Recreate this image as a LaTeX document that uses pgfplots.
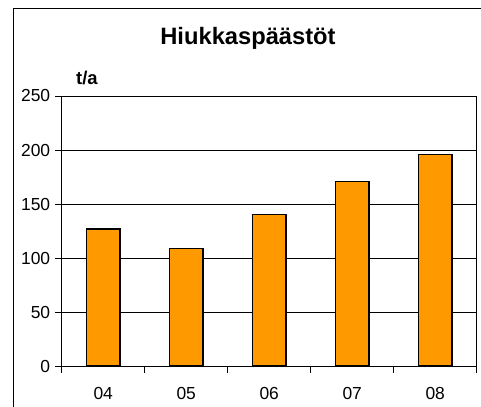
\documentclass[border=0pt]{standalone}
\usepackage{pgfplots}
\pgfplotsset{compat=1.18}
\usepackage{fontspec}
\setmainfont{Liberation Sans}
\definecolor{barorange}{RGB}{255,153,0}
\begin{document}
\begin{tikzpicture}
\useasboundingbox (0bp,0bp) rectangle (481bp,407bp);
% outer chart frame (cropped at right and bottom)
\draw[line width=1bp] (13.3bp,-5bp) -- (13.3bp,398.7bp) -- (490bp,398.7bp);
\begin{axis}[
  at={(61.7bp,41bp)}, anchor=south west,
  scale only axis, width=415bp, height=270bp,
  ybar, bar width=33.3bp,
  xmin=-0.5, xmax=4.5, ymin=0, ymax=250,
  ytick={0,50,...,250},
  ymajorgrids,
  grid style={black, line width=0.8bp},
  axis line style={black, line width=0.8bp},
  tick align=outside,
  tick style={black, line width=0.8bp},
  major tick length=6.5bp,
  xtick pos=lower, ytick pos=left,
  xtick={-0.5,0.5,1.5,2.5,3.5,4.5},
  xticklabels={},
  extra x ticks={0,1,2,3,4},
  extra x tick labels={04,05,06,07,08},
  extra x tick style={grid=none, major tick length=0pt,
    xticklabel style={anchor=base, yshift=-33bp}},
  tick label style={font=\fontsize{17.5}{20}\selectfont},
  yticklabel style={xshift=-1.5bp},
  /pgf/number format/assume math mode=true,
]
\addplot[fill=barorange, draw=black, line width=1.4bp]
  coordinates {(0,127) (1,109) (2,140) (3,171) (4,196)};
\end{axis}
\node[anchor=base, font=\fontsize{23.8}{28}\selectfont\bfseries]
  at (248bp,362bp) {Hiukkaspäästöt};
\node[anchor=base west, inner sep=0pt, font=\fontsize{18.5}{21}\selectfont\bfseries]
  at (76bp,322bp) {t/a};
\end{tikzpicture}
\end{document}
